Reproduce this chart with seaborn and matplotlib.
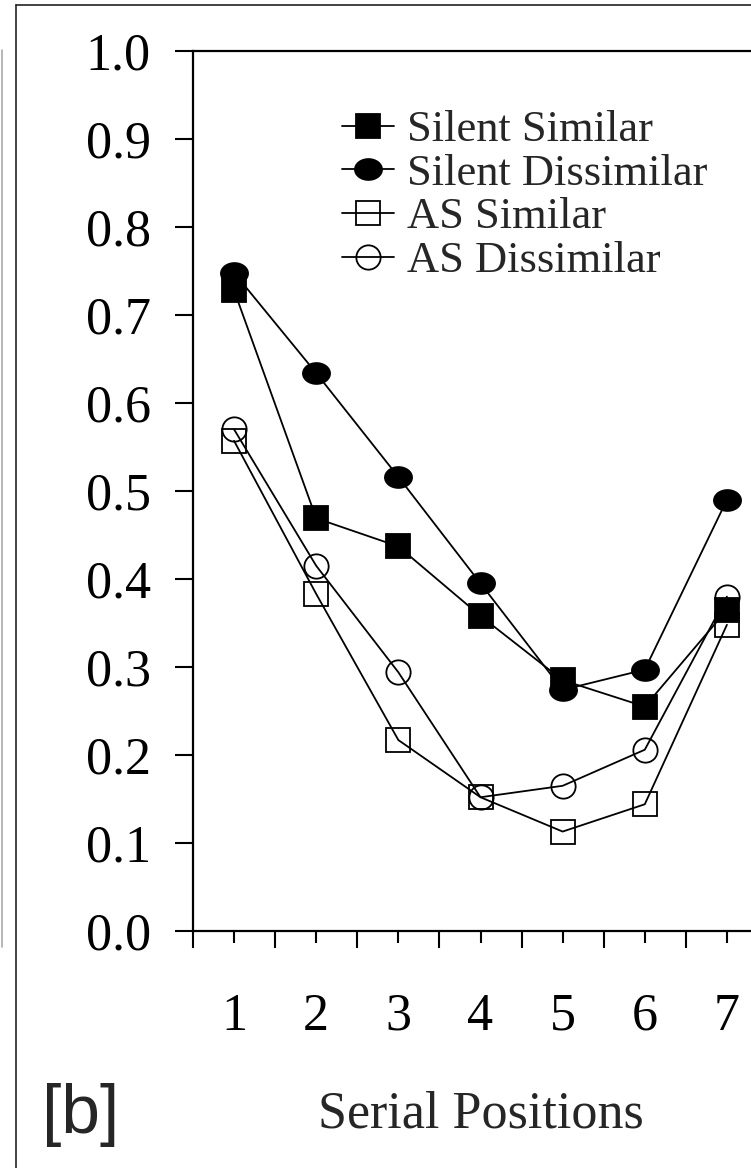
import numpy as np
import pandas as pd
import seaborn as sns
import matplotlib.pyplot as plt
from matplotlib.path import Path
from matplotlib.transforms import Affine2D
from matplotlib.lines import Line2D
from matplotlib.ticker import FixedLocator

# Data
positions = [1, 2, 3, 4, 5, 6, 7]
silent_similar = [0.728, 0.469, 0.437, 0.358, 0.285, 0.255, 0.365]
silent_dissimilar = [0.748, 0.634, 0.516, 0.395, 0.274, 0.297, 0.490]
as_similar = [0.557, 0.383, 0.217, 0.152, 0.113, 0.144, 0.348]
as_dissimilar = [0.570, 0.415, 0.294, 0.152, 0.165, 0.206, 0.380]
series_names = ["Silent Similar", "Silent Dissimilar", "AS Similar", "AS Dissimilar"]
y_ticks = [0.0, 0.1, 0.2, 0.3, 0.4, 0.5, 0.6, 0.7, 0.8, 0.9, 1.0]

df = pd.DataFrame({
    "pos": positions * 4,
    "value": silent_similar + silent_dissimilar + as_similar + as_dissimilar,
    "series": [n for n in series_names for _ in positions],
})

sns.set_style("ticks")
plt.rcParams['font.family'] = ['Liberation Serif', 'DejaVu Serif']

fig = plt.figure(figsize=(7.51, 11.68), dpi=100)
W, H = 751, 1168
ax = fig.add_axes([193 / W, 1 - 931 / H, (768 - 193) / W, 880 / H])

# flattened ellipse marker for the filled "circles"
ellipse = Path.unit_circle().transformed(Affine2D().scale(1, 0.77))

styles = {
    "Silent Similar": dict(marker="s", markersize=17.5, markerfacecolor="black"),
    "Silent Dissimilar": dict(marker=ellipse, markersize=19.5, markerfacecolor="black"),
    "AS Similar": dict(marker="s", markersize=17.5, markerfacecolor="none"),
    "AS Dissimilar": dict(marker="o", markersize=17.5, markerfacecolor="none"),
}

for name in series_names:
    sub = df[df["series"] == name]
    sns.lineplot(data=sub, x="pos", y="value", ax=ax, color="black", lw=1.3,
                 markeredgecolor="black", markeredgewidth=1.3, label=name,
                 **styles[name])

ax.set_xlim(0.5, 7.5)
ax.set_ylim(0, 1.0)
ax.set_yticks(y_ticks)
ax.set_yticklabels([f"{v:.1f}" for v in y_ticks])
ax.set_xticks(positions)
ax.xaxis.set_minor_locator(FixedLocator(np.arange(0.5, 8.0, 1.0)))

for s in ax.spines.values():
    s.set_linewidth(1.6)
    s.set_color("black")

ax.tick_params(axis="y", which="major", length=13, width=1.5, pad=17.5, labelsize=37.5,
               direction="out", colors="black")
ax.tick_params(axis="x", which="major", length=8.5, width=1.5, pad=36, labelsize=37.5,
               direction="out", colors="black")
ax.tick_params(axis="x", which="minor", length=12, width=1.5, direction="out", colors="black")

ax.set_xlabel("Serial Positions", fontsize=37.5)
ax.xaxis.set_label_coords(0.5, -0.181)
ax.xaxis.label.set_va("top")
ax.set_ylabel("")

ax.legend(loc="upper left", bbox_to_anchor=(342 / W, 1 - 110 / H),
          bbox_transform=fig.transFigure, frameon=False, fontsize=32,
          borderpad=0, borderaxespad=0, handlelength=1.18, handletextpad=0.28,
          labelspacing=0.08, numpoints=1)

# panel label and the surrounding frame
fig.text(42 / W, 1 - 1133 / H, "[b]", family=["Liberation Sans", "DejaVu Sans"],
         fontsize=50, va="baseline", ha="left")
fig.add_artist(Line2D([16 / W, 1], [1 - 5 / H, 1 - 5 / H], transform=fig.transFigure,
                      color="#222222", lw=1.2))
fig.add_artist(Line2D([16 / W, 16 / W], [0, 1 - 5 / H], transform=fig.transFigure,
                      color="#222222", lw=1.2))
fig.add_artist(Line2D([1.5 / W, 1.5 / W], [1 - 947 / H, 1 - 50 / H], transform=fig.transFigure,
                      color="#aaaaaa", lw=1.2))

fig.savefig("out.png", dpi=100)
